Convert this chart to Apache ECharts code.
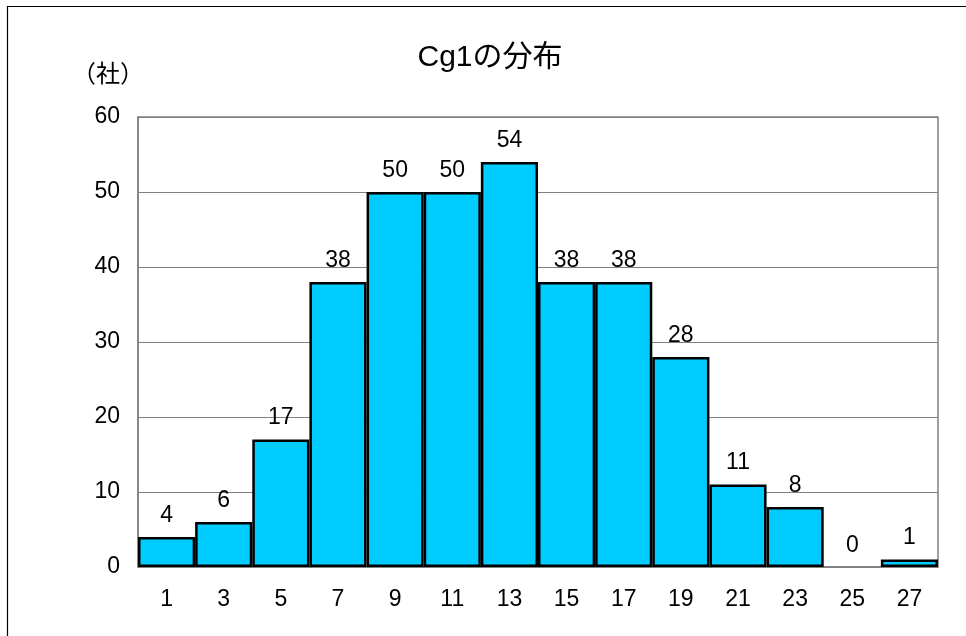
<!DOCTYPE html>
<html><head><meta charset="utf-8">
<script src="https://cdn.jsdelivr.net/npm/echarts@6/dist/echarts.min.js"></script>
<style>html,body{margin:0;padding:0;background:#fff}#c{width:966px;height:636px}</style>
</head><body><div id="c"></div>
<script>
const categories = ['1','3','5','7','9','11','13','15','17','19','21','23','25','27'];
const counts = [4,6,17,38,50,50,54,38,38,28,11,8,0,1];
const yTicks = {min:0, max:60, interval:10};
const titleText = 'Cg1の分布';
const unitText = '（社）';
const FONT = '"Liberation Sans", Arial, "Noto Sans CJK JP", sans-serif';
const barData = counts.map(v => v === 0 ? {value:v, itemStyle:{borderWidth:0}} : v);
const chart = echarts.init(document.getElementById('c'));
chart.setOption({
  animation:false,
  backgroundColor:'#fff',
  textStyle:{fontFamily:FONT},
  graphic:[{type:'rect',shape:{x:7.5,y:6.5,width:970,height:640},
    style:{fill:'none',stroke:'#000',lineWidth:1.2},silent:true},
    {type:'text',x:490,y:58,style:{text:titleText,font:'30px '+FONT,fill:'#000',align:'center',verticalAlign:'middle'}},
    {type:'text',x:108,y:75,style:{text:unitText,font:'24px '+FONT,fill:'#000',align:'center',verticalAlign:'middle'}}],
  grid:{left:138,right:28,top:117,bottom:69,show:true,borderColor:'#808080',borderWidth:1.5},
  xAxis:{type:'category',data:categories,
    axisLine:{show:true,lineStyle:{color:'#808080',width:1.5}},
    axisTick:{show:false},
    axisLabel:{fontSize:23,color:'#000',margin:21,fontFamily:FONT}},
  yAxis:{type:'value',min:yTicks.min,max:yTicks.max,interval:yTicks.interval,
    axisLine:{show:true,lineStyle:{color:'#808080',width:1.5}},
    axisTick:{show:false},
    splitLine:{lineStyle:{color:'#808080',width:1}},
    axisLabel:{fontSize:23,color:'#000',margin:18,fontFamily:FONT}},
  series:[{type:'bar',data:barData,barWidth:'100%',barCategoryGap:'0%',
    itemStyle:{color:'#00CCFF',borderColor:'#000',borderWidth:2.5},
    label:{show:true,position:'top',distance:10,fontSize:23,color:'#000',fontFamily:FONT}}]
});
</script></body></html>
